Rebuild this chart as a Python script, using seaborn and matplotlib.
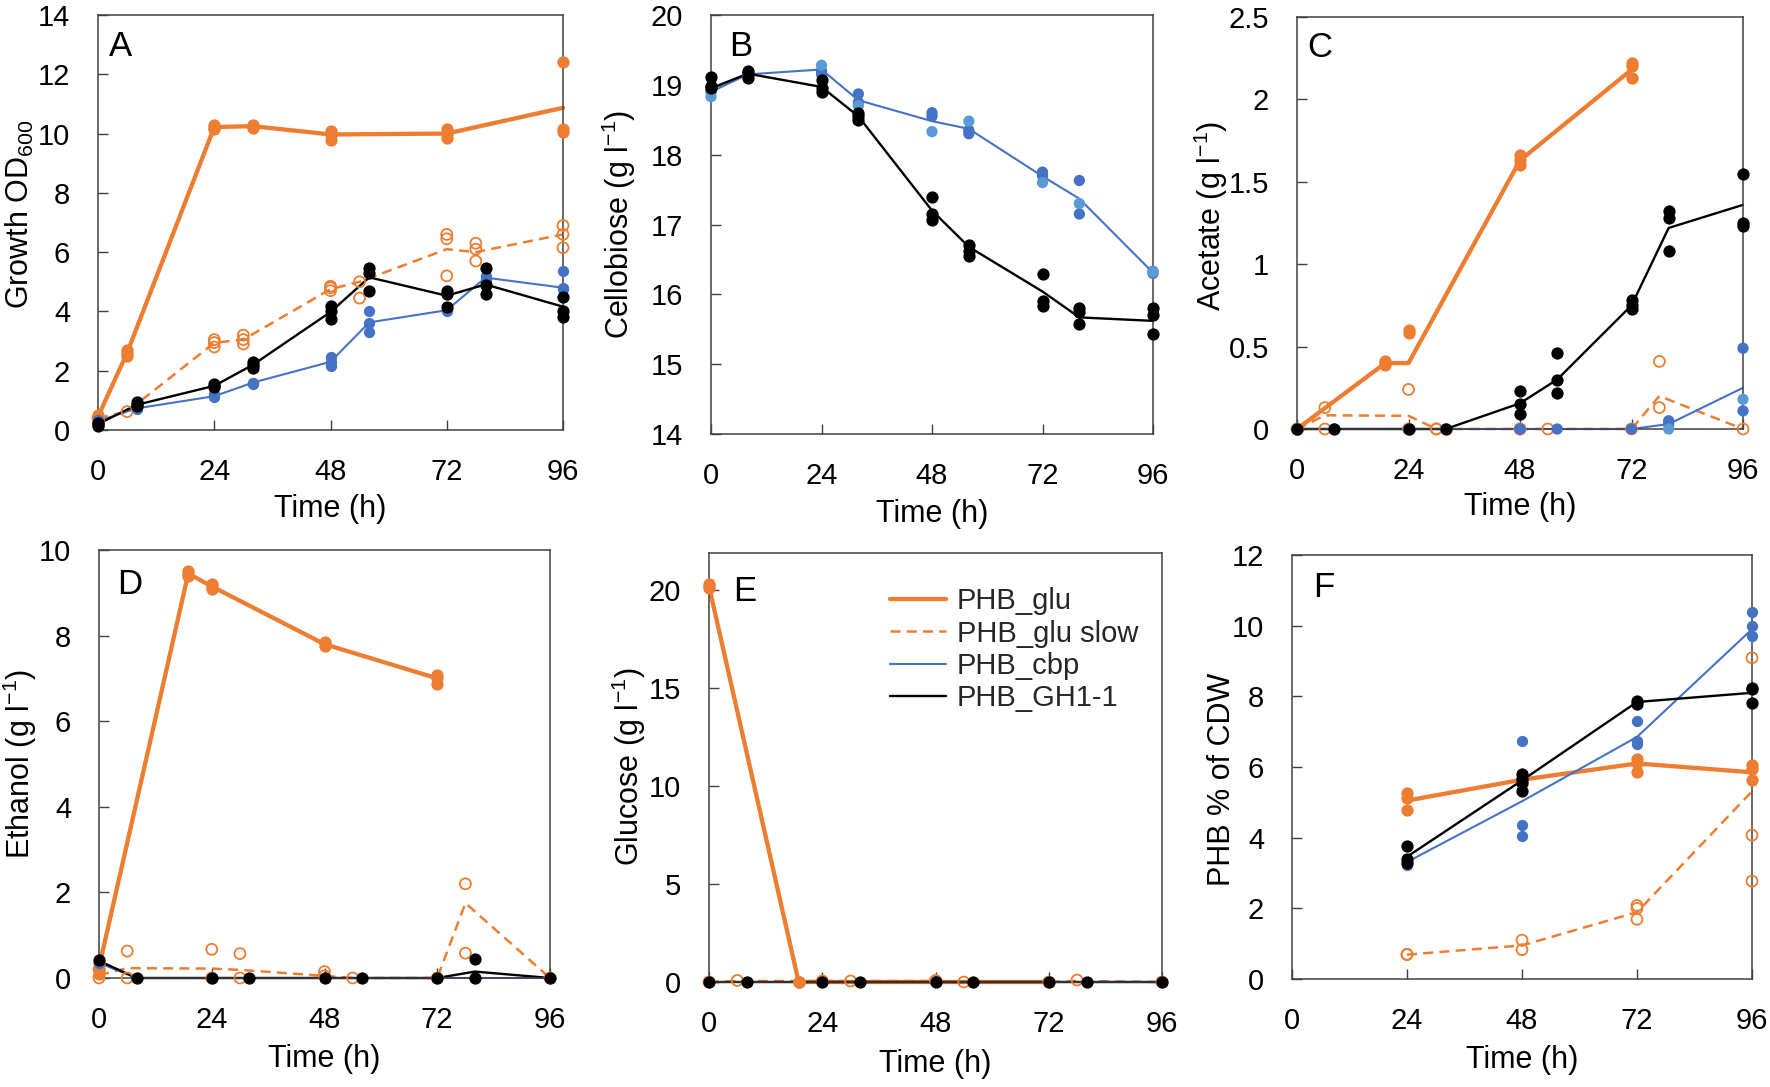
import matplotlib
matplotlib.use("Agg")
import matplotlib.pyplot as plt
import matplotlib.ticker as mticker
import pandas as pd
import seaborn as sns

# ---------------- data ----------------
STRAINS = ["PHB_glu", "PHB_glu slow", "PHB_cbp", "PHB_GH1-1"]

# time grids
t_glu_A = [0, 6, 24, 32, 48, 72, 96]
t_glu = [0, 19, 24, 48, 72]
t_slow = [0, 6, 24, 30, 48, 54, 72, 78, 96]
t_cbp = [0, 8, 24, 32, 48, 56, 72, 80, 96]
t_F = [24, 48, 72, 96]

# Panel A - Growth OD600
A_glu_line = [0.45, 2.6, 10.22, 10.25, 9.97, 10.0, 10.87]
A_glu_pts = [[0.5, 0.4, 0.35], [2.7, 2.6, 2.5], [10.3, 10.2, 10.15], [10.3, 10.25, 10.2],
             [10.1, 9.95, 9.8], [10.15, 10.0, 9.85], [12.4, 10.15, 10.05]]
A_slow_line = [0.4, 0.62, 2.94, 3.05, 4.75, 5.0, 6.1, 6.0, 6.6]
A_slow_pts = [[0.4], [0.62], [3.05, 2.95, 2.8], [3.2, 3.05, 2.9], [4.85, 4.8, 4.7],
              [5.0, 4.45], [6.6, 6.45, 5.2], [6.3, 6.1, 5.7], [6.9, 6.6, 6.15]]
A_cbp_line = [0.3, 0.73, 1.14, 1.6, 2.3, 3.63, 4.04, 5.14, 4.8]
A_cbp_pts = [[0.3, 0.35, 0.25], [0.8, 0.75, 0.7], [1.2, 1.15, 1.1], [1.6, 1.6, 1.55],
             [2.45, 2.3, 2.15], [4.0, 3.6, 3.3], [4.1, 4.05, 4.0], [5.2, 5.1, 5.0],
             [5.35, 4.8, 4.75]]
A_gh_line = [0.2, 0.85, 1.49, 2.2, 3.98, 5.15, 4.53, 4.91, 4.16]
A_gh_pts = [[0.25, 0.2, 0.15], [0.95, 0.85, 0.8], [1.55, 1.5, 1.45], [2.3, 2.2, 2.1],
            [4.2, 4.0, 3.75], [5.45, 5.3, 4.7], [4.7, 4.6, 4.15], [5.45, 4.9, 4.6],
            [4.5, 4.0, 3.8]]

# Panel B - Cellobiose
B_cbp_line = [18.9, 19.15, 19.22, 18.78, 18.48, 18.37, 17.69, 17.37, 16.31]
B_cbp_pts = [[18.95, 18.9, 18.83], [19.17, 19.15, 19.13], [19.2, 19.15, 19.28],
             [18.87, 18.75, 18.7], [18.6, 18.55, 18.33], [18.35, 18.3, 18.48],
             [17.75, 17.7, 17.6], [17.63, 17.15, 17.3], [16.33, 16.3, 16.32]]
B_gh_line = [18.95, 19.16, 18.97, 18.55, 17.2, 16.68, 16.04, 15.67, 15.62]
B_gh_pts = [[19.11, 18.99, 18.95], [19.2, 19.15, 19.1], [19.07, 18.95, 18.9],
            [18.6, 18.55, 18.5], [17.4, 17.15, 17.07], [16.7, 16.62, 16.55],
            [16.29, 15.9, 15.84], [15.8, 15.75, 15.57], [15.8, 15.7, 15.43]]

# Panel C - Acetate
C_glu_line = [0, 0.4, 0.4, 1.63, 2.18]
C_glu_pts = [[0, 0, 0], [0.41, 0.4, 0.39], [0.6, 0.58, 0.0], [1.66, 1.63, 1.6],
             [2.22, 2.2, 2.13]]
C_slow_line = [0, 0.083, 0.08, 0, 0, 0, 0, 0.2, 0]
C_slow_pts = [[0], [0.13, 0.0], [0.24, 0.0], [0, 0], [0, 0], [0], [0], [0.41, 0.13], [0]]
C_cbp_line = [0, 0, 0, 0, 0, 0, 0, 0.03, 0.25]
C_cbp_pts = [[0], [0], [0], [0], [0, 0], [0], [0], [0.05, 0.03, 0.0], [0.49, 0.11, 0.18]]
C_gh_line = [0, 0, 0, 0, 0.156, 0.3, 0.75, 1.22, 1.36]
C_gh_pts = [[0], [0], [0], [0], [0.23, 0.15, 0.094], [0.46, 0.3, 0.22],
            [0.78, 0.75, 0.73], [1.32, 1.28, 1.08], [1.55, 1.25, 1.23]]

# Panel D - Ethanol
D_glu_line = [0.25, 9.45, 9.15, 7.8, 7.0]
D_glu_pts = [[0.35, 0.2, 0.1], [9.5, 9.45, 9.4], [9.2, 9.15, 9.1], [7.85, 7.8, 7.75],
             [7.08, 7.0, 6.87]]
D_slow_line = [0.07, 0.23, 0.22, 0.19, 0.05, 0.0, 0.0, 1.75, 0.0]
D_slow_pts = [[0.2, 0.0], [0.63, 0.0], [0.67, 0.0], [0.57, 0.0], [0.15, 0.05], [0.0],
              [0.0], [2.2, 0.58], [0.0]]
D_cbp_line = [0.35, 0, 0, 0, 0, 0, 0, 0, 0]
D_cbp_pts = [[0.35], [0], [0], [0], [0], [0], [0], [0], [0]]
D_gh_line = [0.4, 0, 0, 0, 0, 0, 0, 0.15, 0]
D_gh_pts = [[0.41], [0], [0], [0], [0], [0], [0], [0.44, 0.0], [0]]

# Panel E - Glucose
E_glu_line = [20.2, 0, 0, 0, 0]
E_glu_pts = [[20.3, 20.2, 20.1], [0, 0, 0], [0.05], [0.05], [0]]
E_slow_line = [0, 0.05, 0.05, 0.05, 0.05, 0, 0, 0.05, 0]
E_slow_pts = [[0], [0.08], [0.05], [0.05], [0.08], [0.0], [0.0], [0.1], [0.0]]
E_cbp_line = [0, 0, 0, 0, 0, 0, 0, 0, 0]
E_cbp_pts = [[0], [0], [0], [0], [0.05], [0], [0], [0], [0]]
E_gh_line = [0, 0, 0, 0, 0, 0, 0, 0, 0]
E_gh_pts = [[0], [0], [0], [0], [0], [0], [0], [0], [0]]

# Panel F - PHB % of CDW
F_glu_line = [5.05, 5.64, 6.1, 5.85]
F_glu_pts = [[5.26, 5.13, 4.79], [5.7, 5.65, 5.6], [6.24, 6.1, 5.87], [6.07, 5.95, 5.64]]
F_slow_line = [0.69, 0.95, 1.89, 5.31]
F_slow_pts = [[0.69, 0.7], [1.1, 0.83], [2.08, 2.0, 1.69], [9.09, 4.07, 2.77]]
F_cbp_line = [3.31, 5.03, 6.85, 9.9]
F_cbp_pts = [[3.22, 3.3, 3.35], [6.74, 4.35, 4.05], [7.3, 6.75, 6.66], [10.39, 10.0, 9.7]]
F_gh_line = [3.46, 5.62, 7.84, 8.1]
F_gh_pts = [[3.76, 3.41, 3.28], [5.8, 5.65, 5.55, 5.33], [7.87, 7.77], [8.23, 8.2, 7.82]]

PANEL_SERIES = {
    "A": [("PHB_glu", t_glu_A, A_glu_line, A_glu_pts), ("PHB_glu slow", t_slow, A_slow_line, A_slow_pts),
          ("PHB_cbp", t_cbp, A_cbp_line, A_cbp_pts), ("PHB_GH1-1", t_cbp, A_gh_line, A_gh_pts)],
    "B": [("PHB_cbp", t_cbp, B_cbp_line, B_cbp_pts), ("PHB_GH1-1", t_cbp, B_gh_line, B_gh_pts)],
    "C": [("PHB_glu", t_glu, C_glu_line, C_glu_pts), ("PHB_glu slow", t_slow, C_slow_line, C_slow_pts),
          ("PHB_cbp", t_cbp, C_cbp_line, C_cbp_pts), ("PHB_GH1-1", t_cbp, C_gh_line, C_gh_pts)],
    "D": [("PHB_glu", t_glu, D_glu_line, D_glu_pts), ("PHB_glu slow", t_slow, D_slow_line, D_slow_pts),
          ("PHB_cbp", t_cbp, D_cbp_line, D_cbp_pts), ("PHB_GH1-1", t_cbp, D_gh_line, D_gh_pts)],
    "E": [("PHB_glu", t_glu, E_glu_line, E_glu_pts), ("PHB_glu slow", t_slow, E_slow_line, E_slow_pts),
          ("PHB_cbp", t_cbp, E_cbp_line, E_cbp_pts), ("PHB_GH1-1", t_cbp, E_gh_line, E_gh_pts)],
    "F": [("PHB_glu", t_F, F_glu_line, F_glu_pts), ("PHB_glu slow", t_F, F_slow_line, F_slow_pts),
          ("PHB_cbp", t_F, F_cbp_line, F_cbp_pts), ("PHB_GH1-1", t_F, F_gh_line, F_gh_pts)],
}

YLABELS = {"A": r"Growth OD$_{600}$", "B": r"Cellobiose (g l$^{-1}$)", "C": r"Acetate (g l$^{-1}$)",
           "D": r"Ethanol (g l$^{-1}$)", "E": r"Glucose (g l$^{-1}$)", "F": "PHB % of CDW"}
YLIMS = {"A": (0, 14), "B": (14, 20), "C": (0, 2.5), "D": (0, 10), "E": (0, 21.9), "F": (0, 12)}
YTICKS = {"A": [0, 2, 4, 6, 8, 10, 12, 14], "B": [14, 15, 16, 17, 18, 19, 20],
          "C": [0, 0.5, 1, 1.5, 2, 2.5], "D": [0, 2, 4, 6, 8, 10], "E": [0, 5, 10, 15, 20],
          "F": [0, 2, 4, 6, 8, 10, 12]}
XTICKS = [0, 24, 48, 72, 96]

# ---------------- long-form tables ----------------
line_rows, pt_rows = [], []
for panel, series in PANEL_SERIES.items():
    for strain, times, line, pts in series:
        for t, v in zip(times, line):
            line_rows.append(dict(panel=panel, strain=strain, time=t, value=v))
        for t, reps in zip(times, pts):
            for r, v in enumerate(reps):
                pt_rows.append(dict(panel=panel, strain=strain, time=t, value=v, rep=r))
lines_df = pd.DataFrame(line_rows)
pts_df = pd.DataFrame(pt_rows)

# ---------------- style ----------------
sns.set_theme(style="white")
plt.rcParams["font.family"] = ["Liberation Sans", "DejaVu Sans"]
plt.rcParams["mathtext.default"] = "regular"

ORANGE, BLUE, LIGHTBLUE, BLACK = "#ED7D31", "#4472C4", "#5B9BD5", "#000000"
COL = {"PHB_glu": ORANGE, "PHB_glu slow": ORANGE, "PHB_cbp": BLUE, "PHB_GH1-1": BLACK}
LW = {"PHB_glu": 3.1, "PHB_glu slow": 1.8, "PHB_cbp": 1.5, "PHB_GH1-1": 1.7}
LS = {"PHB_glu": "-", "PHB_glu slow": (0, (4, 2.5)), "PHB_cbp": "-", "PHB_GH1-1": "-"}
MS = {"PHB_glu": 78, "PHB_cbp": 66, "PHB_GH1-1": 78}

W, H = 1770, 1087
BOX = {"A": (98, 15, 563, 430), "B": (711, 15, 1153, 434), "C": (1297, 17, 1743, 429),
       "D": (99, 550, 550, 978), "E": (709, 553, 1162, 982), "F": (1292, 555, 1752, 979)}
YLAB_POS = {"A": (-0.168, 0.52), "B": (-0.208, 0.5), "C": (-0.193, 0.517),
            "D": (-0.175, 0.5), "E": (-0.177, 0.503), "F": (-0.152, 0.47)}
LETTER_POS = {"A": (0.049, 0.923), "B": (0.068, 0.926), "C": (0.05, 0.925),
              "D": (0.067, 0.92), "E": (0.079, 0.91), "F": (0.07, 0.923)}

fig = plt.figure(figsize=(W / 100, H / 100), dpi=100)
fig.patch.set_facecolor("white")

for panel in ["A", "B", "C", "D", "E", "F"]:
    x0, y0, x1, y1 = BOX[panel]
    ax = fig.add_axes([x0 / W, 1 - y1 / H, (x1 - x0) / W, (y1 - y0) / H])
    ldf = lines_df[lines_df.panel == panel]
    pdf = pts_df[pts_df.panel == panel]
    for strain in STRAINS:
        sl = ldf[ldf.strain == strain]
        if sl.empty:
            continue
        sp = pdf[pdf.strain == strain]
        sns.lineplot(data=sl, x="time", y="value", color=COL[strain], linewidth=LW[strain],
                     linestyle=LS[strain], estimator=None, sort=False, legend=False,
                     label=strain, ax=ax, clip_on=False, zorder=2)
        if strain == "PHB_glu slow":
            sns.scatterplot(data=sp, x="time", y="value", marker="o", s=62,
                            facecolor="none", edgecolor=ORANGE, color=ORANGE,
                            linewidth=1.3, legend=False, ax=ax, clip_on=False, zorder=3)
        elif strain == "PHB_cbp" and panel in ("B", "C"):
            pal = {0: BLUE, 1: BLUE, 2: LIGHTBLUE}
            sns.scatterplot(data=sp, x="time", y="value", hue="rep", palette=pal, marker="o",
                            s=MS[strain], linewidth=0, legend=False, ax=ax, clip_on=False,
                            zorder=3)
        else:
            sns.scatterplot(data=sp, x="time", y="value", color=COL[strain], marker="o",
                            s=MS[strain], linewidth=0, legend=False, ax=ax, clip_on=False,
                            zorder=3)

    ax.set_xlim(0, 96)
    ax.set_ylim(*YLIMS[panel])
    ax.set_xticks(XTICKS)
    ax.set_yticks(YTICKS[panel])
    ax.yaxis.set_major_formatter(mticker.FuncFormatter(lambda v, p: f"{v:g}"))
    ax.tick_params(axis="both", direction="in", length=7, width=1.0, pad=20,
                   labelsize=21, color="#404040", labelcolor="black",
                   bottom=True, left=True)
    for sp_ in ax.spines.values():
        sp_.set_color("#404040")
        sp_.set_linewidth(1.1)
    ax.set_xlabel("Time (h)", fontsize=22, color="black")
    ax.set_ylabel(YLABELS[panel], fontsize=22, color="black")
    ax.xaxis.set_label_coords(0.5, -0.19)
    ax.xaxis.label.set_verticalalignment("center")
    ax.yaxis.set_label_coords(*YLAB_POS[panel])
    ax.yaxis.label.set_verticalalignment("center")
    lx, ly = LETTER_POS[panel]
    ax.text(lx, ly, panel, transform=ax.transAxes, fontsize=25, ha="center", va="center",
            color="black")
    ax.set_facecolor("white")

    if panel == "E":
        handles, labels = ax.get_legend_handles_labels()
        keep = [(h, l) for h, l in zip(handles, labels) if l in STRAINS]
        ax.legend([h for h, _ in keep], [l for _, l in keep], loc="upper left",
                  bbox_to_anchor=(0.40, 0.92), frameon=False, fontsize=21,
                  handlelength=1.9, handletextpad=0.38, labelspacing=0.15,
                  borderpad=0, borderaxespad=0)

fig.savefig("out.png", dpi=100, facecolor="white")
